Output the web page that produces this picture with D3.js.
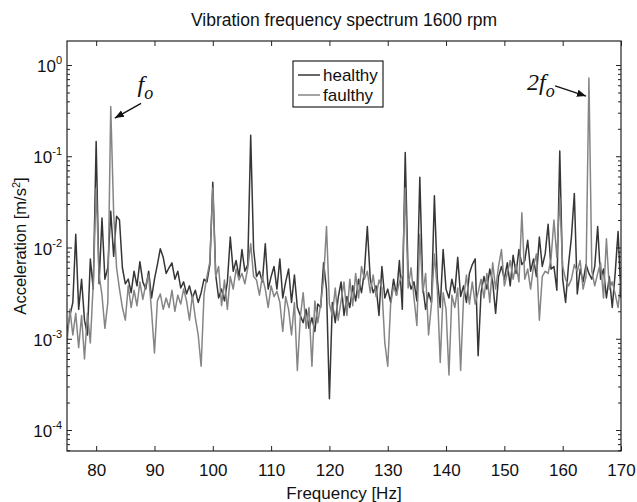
<!DOCTYPE html>
<html>
<head>
<meta charset="utf-8">
<script src="https://cdn.jsdelivr.net/npm/d3@7"></script>
<style>
  body { margin: 0; background: #fff; }
  svg { display: block; font-family: "Liberation Sans", Arial, sans-serif; }
</style>
</head>
<body>
<div id="chart"></div>
<script>
// Spectrum values (m/s^2), 0.5 Hz bins
const freq = [
  75,75.5,76,76.5,77,77.5,78,78.5,79,79.5,
  80,80.5,81,81.5,82,82.5,83,83.5,84,84.5,
  85,85.5,86,86.5,87,87.5,88,88.5,89,89.5,
  90,90.5,91,91.5,92,92.5,93,93.5,94,94.5,
  95,95.5,96,96.5,97,97.5,98,98.5,99,99.5,
  100,100.5,101,101.5,102,102.5,103,103.5,104,104.5,
  105,105.5,106,106.5,107,107.5,108,108.5,109,109.5,
  110,110.5,111,111.5,112,112.5,113,113.5,114,114.5,
  115,115.5,116,116.5,117,117.5,118,118.5,119,119.5,
  120,120.5,121,121.5,122,122.5,123,123.5,124,124.5,
  125,125.5,126,126.5,127,127.5,128,128.5,129,129.5,
  130,130.5,131,131.5,132,132.5,133,133.5,134,134.5,
  135,135.5,136,136.5,137,137.5,138,138.5,139,139.5,
  140,140.5,141,141.5,142,142.5,143,143.5,144,144.5,
  145,145.5,146,146.5,147,147.5,148,148.5,149,149.5,
  150,150.5,151,151.5,152,152.5,153,153.5,154,154.5,
  155,155.5,156,156.5,157,157.5,158,158.5,159,159.5,
  160,160.5,161,161.5,162,162.5,163,163.5,164,164.5,
  165,165.5,166,166.5,167,167.5,168,168.5,169,169.5,
  170
]

const healthy = [
  .0012,.0018,.0025,.014,.0021,.0045,.0016,.0011,.0075,.0035,
  .145,.004,.021,.0045,.006,.025,.008,.022,.02,.006,
  .004,.0045,.0032,.0055,.0038,.007,.0042,.0035,.0055,.0028,
  .0045,.0065,.0097,.0078,.0052,.006,.0068,.0045,.0055,.0036,
  .0042,.0031,.0038,.0028,.0034,.0025,.0032,.0045,.0042,.0065,
  .052,.005,.0028,.0035,.0026,.0042,.013,.0055,.0072,.0048,
  .0095,.0055,.0065,.17,.0095,.0048,.0055,.0042,.011,.0035,
  .0048,.0062,.0035,.0075,.0028,.0042,.0058,.0025,.005,.0022,
  .0018,.0015,.0021,.0013,.0017,.0012,.0024,.0022,.0068,.0035,
  .00022,.0025,.0015,.0028,.0042,.0018,.0029,.0022,.0038,.0026,
  .0045,.0032,.0055,.017,.0045,.0032,.0038,.0018,.0062,.0028,
  .0035,.0025,.0045,.003,.0072,.0021,.11,.0048,.0035,.0042,
  .0026,.059,.0038,.0021,.0032,.0025,.037,.0045,.0022,.0095,
  .0035,.0028,.0045,.0032,.0078,.0029,.0038,.0025,.0052,.0065,
  .0075,.00065,.0032,.0048,.0035,.0058,.0042,.0019,.0048,.0062,
  .0045,.0068,.0038,.0082,.0052,.0095,.0065,.0072,.012,.0055,
  .0075,.0048,.013,.0062,.0085,.018,.0058,.0062,.0034,.114,
  .0045,.0025,.0065,.013,.039,.0031,.0058,.0042,.0065,.0052,
  .0045,.0062,.017,.0045,.0058,.0028,.0048,.0022,.0052,.015,
  .0028
]

const faulty = [
  .0009,.0021,.0011,.0019,.0008,.0018,.0006,.0019,.0009,.004,
  .045,.005,.003,.0013,.0025,.35,.024,.006,.0035,.0022,
  .0016,.0038,.0022,.0034,.0023,.0042,.0027,.0039,.005,.002,
  .0007,.0026,.0031,.0021,.0028,.0022,.0034,.002,.003,.0024,
  .0035,.0026,.0016,.003,.0017,.0011,.0005,.0031,.0048,.007,
  .045,.0048,.0062,.0023,.0044,.0021,.0048,.0035,.0058,.0044,
  .0052,.004,.006,.011,.0048,.0044,.003,.0048,.0035,.0022,
  .0038,.0029,.0033,.0025,.0012,.0029,.0021,.0011,.0025,.00045,
  .0017,.0032,.0013,.0022,.0005,.0026,.0015,.0024,.0045,.017,
  .0024,.0018,.0036,.0016,.0026,.0042,.0018,.0045,.0023,.0052,
  .0028,.0062,.0045,.0055,.0032,.005,.0029,.0044,.0036,.0009,
  .0005,.0024,.0038,.003,.0042,.005,.045,.0036,.006,.0028,
  .0014,.014,.0032,.0052,.0011,.0024,.0085,.0035,.00055,.0032,
  .0021,.0004,.003,.0022,.0036,.00045,.0028,.005,.0024,.0042,
  .0024,.0032,.0045,.0028,.0052,.0025,.0068,.0035,.0062,.0095,
  .0038,.0052,.0072,.0045,.0065,.0042,.024,.0045,.0058,.0035,
  .0062,.0085,.0016,.0048,.0055,.0052,.0075,.02,.0078,.035,
  .0062,.0045,.0038,.0045,.0065,.0055,.0072,.0035,.0048,.72,
  .0055,.0038,.0052,.0068,.0028,.0125,.0035,.0042,.0031,.0022,
  .0045
]

const seriesNames = ["healthy", "faulthy"]
const xTicks = [80, 90, 100, 110, 120, 130, 140, 150, 160, 170]
const yTickExps = [0, -1, -2, -3, -4]

// Chart parameters
const WIDTH = 637
const HEIGHT = 502
const PLOT = {LEFT:67, RIGHT:621, TOP:41, BOTTOM:451}
const COLOURS = ["#363636", "#858585"]
const FONT = 17

let xScale = d3.scaleLinear()
    .domain([75, 170])
    .range([PLOT.LEFT, PLOT.RIGHT])

let yScale = d3.scaleLog()
    .domain([Math.pow(10, -4.23), Math.pow(10, 0.263)])
    .range([PLOT.BOTTOM, PLOT.TOP])

let svg = d3.select("#chart").append("svg")
    .attr("width", WIDTH)
    .attr("height", HEIGHT)

// Lines, healthy first so faulty sits on top
svg.append("clipPath").attr("id", "clip")
    .append("rect")
    .attr("x", PLOT.LEFT).attr("y", PLOT.TOP)
    .attr("width", PLOT.RIGHT - PLOT.LEFT).attr("height", PLOT.BOTTOM - PLOT.TOP)

let line = d3.line()
    .x((d, i) => xScale(freq[i]))
    .y(d => yScale(d))

;[healthy, faulty].forEach((series, k) => {
    svg.append("path")
        .datum(series)
        .attr("clip-path", "url(#clip)")
        .attr("fill", "none")
        .attr("stroke", COLOURS[k])
        .attr("stroke-width", 1.5)
        .attr("stroke-linejoin", "round")
        .attr("d", line)
})

// Minor log ticks
let minors = []
for (let e = -5; e <= 0; e++)
    for (let m = 2; m <= 9; m++) {
        let v = m * Math.pow(10, e)
        if (v >= yScale.domain()[0] && v <= yScale.domain()[1]) minors.push(v)
    }
let majors = yTickExps.map(e => Math.pow(10, e))

function styleAxis(g) {
    g.select(".domain").remove()
    g.selectAll("line").attr("stroke", "#222")
}

// x axis, bottom and top, ticks pointing inwards
svg.append("g")
    .attr("transform", "translate(0," + PLOT.BOTTOM + ")")
    .call(d3.axisBottom(xScale).tickValues(xTicks).tickSize(-5).tickPadding(13))
    .call(styleAxis)
    .selectAll("text")
        .attr("font-size", FONT)
        .attr("font-family", "Liberation Sans, Arial, sans-serif")
        .attr("fill", "#111")

svg.append("g")
    .attr("transform", "translate(0," + PLOT.TOP + ")")
    .call(d3.axisTop(xScale).tickValues(xTicks).tickSize(-5).tickFormat(""))
    .call(styleAxis)

// y axis, left and right
svg.append("g")
    .attr("transform", "translate(" + PLOT.LEFT + ",0)")
    .call(d3.axisLeft(yScale).tickValues(majors).tickSize(-5).tickFormat(""))
    .call(styleAxis)
svg.append("g")
    .attr("transform", "translate(" + PLOT.LEFT + ",0)")
    .call(d3.axisLeft(yScale).tickValues(minors).tickSize(-3).tickFormat(""))
    .call(styleAxis)
svg.append("g")
    .attr("transform", "translate(" + PLOT.RIGHT + ",0)")
    .call(d3.axisRight(yScale).tickValues(majors).tickSize(-5).tickFormat(""))
    .call(styleAxis)
svg.append("g")
    .attr("transform", "translate(" + PLOT.RIGHT + ",0)")
    .call(d3.axisRight(yScale).tickValues(minors).tickSize(-3).tickFormat(""))
    .call(styleAxis)

// y tick labels with exponents
let yLabels = svg.append("g").selectAll("text")
    .data(yTickExps)
    .join("text")
    .attr("x", PLOT.LEFT - 5)
    .attr("y", d => yScale(Math.pow(10, d)) + 7)
    .attr("text-anchor", "end")
    .attr("font-size", FONT)
    .attr("fill", "#111")
yLabels.append("tspan").text("10")
yLabels.append("tspan")
    .attr("dy", -8)
    .attr("font-size", 11)
    .text(d => d)

// Plot frame
svg.append("rect")
    .attr("x", PLOT.LEFT).attr("y", PLOT.TOP)
    .attr("width", PLOT.RIGHT - PLOT.LEFT).attr("height", PLOT.BOTTOM - PLOT.TOP)
    .attr("fill", "none")
    .attr("stroke", "#222")
    .attr("stroke-width", 1.2)

// Title and axis labels
svg.append("text")
    .attr("x", (PLOT.LEFT + PLOT.RIGHT) / 2)
    .attr("y", 26)
    .attr("text-anchor", "middle")
    .attr("font-size", 17.5)
    .attr("fill", "#111")
    .text("Vibration frequency spectrum 1600 rpm")

svg.append("text")
    .attr("x", (PLOT.LEFT + PLOT.RIGHT) / 2)
    .attr("y", 499)
    .attr("text-anchor", "middle")
    .attr("font-size", FONT)
    .attr("fill", "#111")
    .text("Frequency [Hz]")

let yTitle = svg.append("text")
    .attr("transform", "translate(26," + ((PLOT.TOP + PLOT.BOTTOM) / 2) + ") rotate(-90)")
    .attr("text-anchor", "middle")
    .attr("font-size", 16.5)
    .attr("fill", "#111")
yTitle.append("tspan").text("Acceleration [m/s")
yTitle.append("tspan").attr("dy", -6).attr("font-size", 11).text("2")
yTitle.append("tspan").attr("dy", 6).text("]")

// Legend
let legend = svg.append("g").attr("transform", "translate(293,61)")
legend.append("rect")
    .attr("width", 90).attr("height", 46)
    .attr("fill", "#fff")
    .attr("stroke", "#222")
    .attr("stroke-width", 1.2)
seriesNames.forEach((name, k) => {
    let y = 14 + k * 20
    legend.append("line")
        .attr("x1", 5).attr("x2", 27)
        .attr("y1", y).attr("y2", y)
        .attr("stroke", COLOURS[k])
        .attr("stroke-width", 1.5)
    legend.append("text")
        .attr("x", 30).attr("y", y + 6)
        .attr("font-size", FONT)
        .attr("fill", "#111")
        .text(name)
})

// Peak annotations, placed in data units
svg.append("defs").append("marker")
    .attr("id", "arrow")
    .attr("viewBox", "0 0 10 10")
    .attr("refX", 10).attr("refY", 5)
    .attr("markerWidth", 7).attr("markerHeight", 7)
    .attr("orient", "auto")
    .append("path")
    .attr("d", "M0,1 L10,5 L0,9 Z")
    .attr("fill", "#111")

const notes = [
    {pre:"", tx:87.1, ty:0.5, x1:87.7, y1:0.38, x2:83.2, y2:0.262},
    {pre:"2", tx:153.9, ty:0.53, x1:158.7, y1:0.59, x2:164.0, y2:0.456}
]
notes.forEach(n => {
    let t = svg.append("text")
        .attr("x", xScale(n.tx))
        .attr("y", yScale(n.ty))
        .attr("font-family", "Liberation Serif, Times New Roman, serif")
        .attr("font-style", "italic")
        .attr("font-size", 24)
        .attr("fill", "#111")
    t.append("tspan").text(n.pre + "f")
    t.append("tspan").attr("dy", 7).attr("font-size", 18).text("o")
    svg.append("line")
        .attr("x1", xScale(n.x1)).attr("y1", yScale(n.y1))
        .attr("x2", xScale(n.x2)).attr("y2", yScale(n.y2))
        .attr("stroke", "#111")
        .attr("stroke-width", 1.3)
        .attr("marker-end", "url(#arrow)")
})
</script>
</body>
</html>
